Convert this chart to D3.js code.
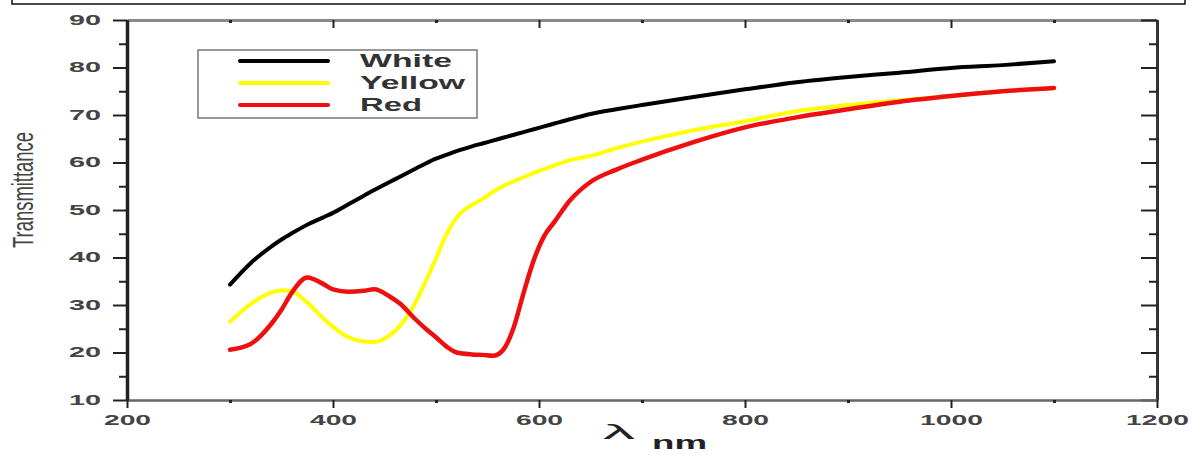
<!DOCTYPE html>
<html>
<head>
<meta charset="utf-8">
<script src="https://cdn.jsdelivr.net/npm/d3@7"></script>
<style>
  body { margin: 0; background: #fff; }
  text { font-family: "Liberation Sans", Arial, sans-serif; }
</style>
</head>
<body>
<div id="chart"></div>
<script>
// wavelength (nm)
const wavelengths = [300, 320, 340, 350, 360, 375, 390, 400, 415, 430, 440, 455, 465, 480, 490, 500,
  510, 520, 535, 545, 555, 565, 575, 585, 595, 605, 615, 630, 650, 675, 700, 750, 800, 850, 900,
  950, 1000, 1050, 1100];

const whiteValues = [34.3, 38.8, 42.3, 43.8, 45.1, 46.9, 48.4, 49.4, 51.2, 53.0, 54.2, 55.9, 57.0, 58.7,
  59.8, 60.8, 61.6, 62.4, 63.4, 64.0, 64.6, 65.2, 65.8, 66.4, 67.0, 67.6, 68.2, 69.1, 70.2, 71.2,
  72.1, 73.8, 75.4, 76.9, 78.0, 78.9, 79.9, 80.5, 81.3];

const yellowValues = [26.5, 30.2, 32.6, 33.1, 32.9, 30.5, 27.3, 25.4, 23.2, 22.3, 22.2, 23.6, 25.6, 30.5,
  35.0, 39.8, 44.8, 48.4, 51.1, 52.3, 53.8, 55.0, 56.0, 56.9, 57.8, 58.6, 59.4, 60.5, 61.4, 63.0,
  64.4, 66.8, 68.7, 70.8, 72.1, 73.1, 74.0, 75.0, 75.7];

const redValues = [20.6, 21.8, 26.0, 29.0, 32.6, 35.8, 34.5, 33.3, 32.8, 33.0, 33.3, 31.8, 30.3, 27.0,
  25.0, 23.2, 21.3, 20.0, 19.6, 19.5, 19.3, 20.5, 25.0, 32.5, 39.5, 44.5, 47.5, 52.0, 55.9, 58.5,
  60.6, 64.3, 67.4, 69.5, 71.2, 72.8, 74.0, 75.0, 75.7];

const seriesNames = ["White", "Yellow", "Red"];
const xTicks = [200, 400, 600, 800, 1000, 1200];
const xMinorTicks = [300, 500, 700, 900, 1100];
const yTicks = [10, 20, 30, 40, 50, 60, 70, 80, 90];
const yMinorTicks = [15, 25, 35, 45, 55, 65, 75, 85];

const lineColors = ["#000000", "#ffff00", "#ee1010"];
const lineWidths = [4, 4, 4.5];

const W = 1190, H = 455;
const svg = d3.select("#chart").append("svg")
  .attr("width", W)
  .attr("height", H);

// frame remnant at the top
svg.append("path")
  .attr("d", "M12,0V4H1185V0")
  .attr("fill", "none")
  .attr("stroke", "#111")
  .attr("stroke-width", 1.5);

const x = d3.scaleLinear().domain([200, 1200]).range([127, 1157]);
const y = d3.scaleLinear().domain([10, 90]).range([400, 20]);

function styleAxis(g, color, width) {
  g.select(".domain").attr("stroke", color).attr("stroke-width", width);
  g.selectAll(".tick line").attr("stroke", "#222").attr("stroke-width", 2);
}

// top axis
svg.append("g").attr("transform", "translate(0,20)")
  .call(d3.axisTop(x).tickValues(xTicks).tickSize(-8).tickSizeOuter(0).tickFormat(""))
  .call(g => styleAxis(g, "#8a8a8a", 3));
svg.append("g").attr("transform", "translate(0,20)")
  .call(d3.axisTop(x).tickValues(xMinorTicks).tickSize(-3).tickFormat(""))
  .call(g => g.select(".domain").remove())
  .call(g => g.selectAll(".tick line").attr("stroke", "#222").attr("stroke-width", 3));

// right axis
svg.append("g").attr("transform", "translate(1157,0)")
  .call(d3.axisRight(y).tickValues(yTicks).tickSize(-16).tickSizeOuter(0).tickFormat(""))
  .call(g => styleAxis(g, "#333", 3));
svg.append("g").attr("transform", "translate(1157,0)")
  .call(d3.axisRight(y).tickValues(yMinorTicks).tickSize(-8).tickFormat(""))
  .call(g => g.select(".domain").remove())
  .call(g => g.selectAll(".tick line").attr("stroke", "#222").attr("stroke-width", 2));

// bottom axis
svg.append("g").attr("transform", "translate(0,400)")
  .call(d3.axisBottom(x).tickValues(xTicks).tickSize(8).tickSizeOuter(0).tickPadding(6)
    .tickFormat(d3.format("d")))
  .call(g => styleAxis(g, "#666", 2.5))
  .call(g => g.selectAll("text")
    .attr("fill", "#444")
    .style("font-size", "15px")
    .style("font-weight", "bold")
    .attr("textLength", d => String(d).length * 15.7)
    .attr("lengthAdjust", "spacingAndGlyphs"));
svg.append("g").attr("transform", "translate(0,400)")
  .call(d3.axisBottom(x).tickValues(xMinorTicks).tickSize(3).tickFormat(""))
  .call(g => g.select(".domain").remove())
  .call(g => g.selectAll(".tick line").attr("stroke", "#222").attr("stroke-width", 3));

// left axis
svg.append("g").attr("transform", "translate(127,0)")
  .call(d3.axisLeft(y).tickValues(yTicks).tickSize(14).tickSizeOuter(0).tickPadding(12))
  .call(g => styleAxis(g, "#222", 3.5))
  .call(g => g.selectAll("text")
    .attr("fill", "#444")
    .style("font-size", "14px")
    .style("font-weight", "bold")
    .attr("textLength", 32)
    .attr("lengthAdjust", "spacingAndGlyphs"));
svg.append("g").attr("transform", "translate(127,0)")
  .call(d3.axisLeft(y).tickValues(yMinorTicks).tickSize(8).tickFormat(""))
  .call(g => g.select(".domain").remove())
  .call(g => g.selectAll(".tick line").attr("stroke", "#222").attr("stroke-width", 2));

// axis titles
svg.append("text")
  .attr("transform", "translate(33,190) rotate(-90)")
  .attr("text-anchor", "middle")
  .attr("fill", "#444")
  .style("font-size", "30px")
  .attr("textLength", 116)
  .attr("lengthAdjust", "spacingAndGlyphs")
  .text("Transmittance");

svg.append("text")
  .attr("x", 603).attr("y", 439)
  .attr("fill", "#222")
  .style("font-size", "21px")
  .attr("textLength", 32)
  .attr("lengthAdjust", "spacingAndGlyphs")
  .text("λ");
svg.append("text")
  .attr("x", 652).attr("y", 449)
  .attr("fill", "#222")
  .style("font-size", "18px")
  .style("font-weight", "bold")
  .attr("textLength", 55)
  .attr("lengthAdjust", "spacingAndGlyphs")
  .text("nm");

// curves
const allSeries = [whiteValues, yellowValues, redValues];
const line = d3.line()
  .x((d, i) => x(wavelengths[i]))
  .y(d => y(d))
  .curve(d3.curveMonotoneX);

// yellow first, then red, black on top
[1, 2, 0].forEach(k => {
  svg.append("path")
    .datum(allSeries[k])
    .attr("fill", "none")
    .attr("stroke", lineColors[k])
    .attr("stroke-width", lineWidths[k])
    .attr("stroke-linejoin", "round")
    .attr("stroke-linecap", "round")
    .attr("d", line);
});

// legend
const legend = svg.append("g");
legend.append("rect")
  .attr("x", 198).attr("y", 50)
  .attr("width", 279).attr("height", 68)
  .attr("fill", "#fff")
  .attr("stroke", "#777")
  .attr("stroke-width", 1.5);
const legendY = d3.scalePoint().domain(seriesNames).range([61, 105]);
const labelWidths = { White: 92, Yellow: 105, Red: 62 };
seriesNames.forEach((name, i) => {
  legend.append("line")
    .attr("x1", 240).attr("x2", 328)
    .attr("y1", legendY(name)).attr("y2", legendY(name))
    .attr("stroke", lineColors[i])
    .attr("stroke-width", 4)
    .attr("stroke-linecap", "round");
  legend.append("text")
    .attr("x", 360).attr("y", legendY(name) + 6)
    .attr("fill", "#333")
    .style("font-size", "18px")
    .style("font-weight", "bold")
    .attr("textLength", labelWidths[name])
    .attr("lengthAdjust", "spacingAndGlyphs")
    .text(name);
});
</script>
</body>
</html>
